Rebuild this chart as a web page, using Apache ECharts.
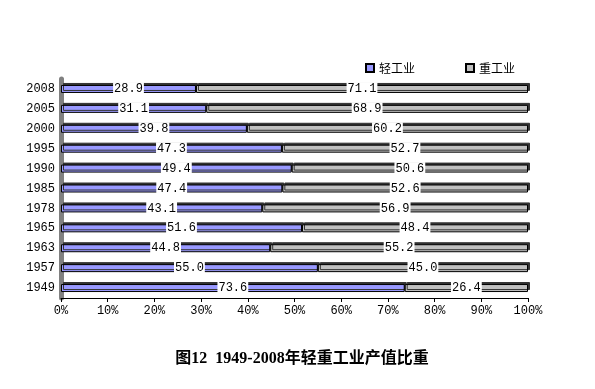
<!DOCTYPE html>
<html><head><meta charset="utf-8">
<script src="https://cdn.jsdelivr.net/npm/echarts@6/dist/echarts.min.js"></script>
<style>html,body{margin:0;padding:0;background:#fff}#c{width:595px;height:389px}</style>
</head><body><div id="c"></div>
<script>
const years = ['1949','1957','1963','1965','1978','1985','1990','1995','2000','2005','2008'];
const light = [73.6,55.0,44.8,51.6,43.1,47.4,49.4,47.3,39.8,31.1,28.9];
const heavy = [26.4,45.0,55.2,48.4,56.9,52.6,50.6,52.7,60.2,68.9,71.1];
const xTicks = [0,10,20,30,40,50,60,70,80,90,100];
const seriesNames = ['轻工业','重工业'];
const titleText = '图12  1949-2008年轻重工业产值比重';

const mono = "'Liberation Mono','DejaVu Sans Mono','Noto Sans CJK SC',monospace";
const chart = echarts.init(document.getElementById('c'), null, {renderer:'canvas'});
const labelCfg = {
  show:true, position:'inside', color:'#000', fontFamily:mono, fontSize:12,
  backgroundColor:'#fff', padding:[1,1,0,1],
  formatter: p => p.value.toFixed(1)
};
const barStyle = (c) => ({color:c, borderColor:'#000', borderWidth:1,
  shadowColor:'#333', shadowBlur:0, shadowOffsetX:2, shadowOffsetY:-2});
chart.setOption({
  animation:false,
  backgroundColor:'#fff',
  title:{text:titleText, left:297, textAlign:'center', top:346,
    textStyle:{fontSize:16, fontWeight:'bold', color:'#000',
      fontFamily:"'Liberation Serif','Noto Sans CJK SC',serif"}},
  legend:{left:360, top:57, itemGap:50, itemWidth:8, itemHeight:8, icon:'rect',
    data:seriesNames,
    textStyle:{fontSize:12, color:'#000', fontFamily:"'Noto Sans CJK SC',sans-serif"}},
  grid:{left:61, right:67, top:79, bottom:91, containLabel:false},
  xAxis:{type:'value', min:0, max:100, interval:10,
    axisLine:{show:true, lineStyle:{color:'#000', width:1}},
    axisTick:{show:true, length:4, lineStyle:{color:'#000'}},
    splitLine:{show:false},
    axisLabel:{formatter:v=>v+'%', color:'#000', fontFamily:mono, fontSize:12, margin:7}},
  yAxis:{type:'category', data:years,
    axisLine:{show:true, lineStyle:{color:'#808080', width:5}},
    axisTick:{show:false},
    axisLabel:{color:'#000', fontFamily:mono, fontSize:12, margin:6}},
  series:[
    {name:seriesNames[0], type:'bar', stack:'t', data:light, barWidth:8,
      itemStyle:barStyle('#9999FF'), label:labelCfg},
    {name:seriesNames[1], type:'bar', stack:'t', data:heavy, barWidth:8,
      itemStyle:barStyle('#C0C0C0'), label:labelCfg}
  ]
});
</script></body></html>
